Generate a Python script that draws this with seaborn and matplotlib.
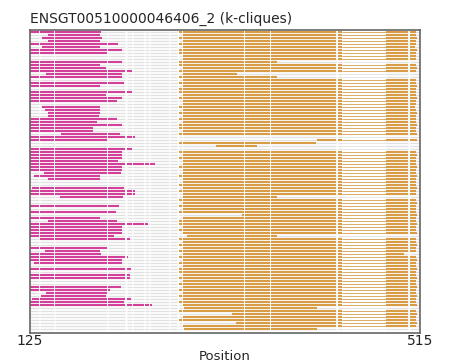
import numpy as np
import matplotlib
matplotlib.use("Agg")
import matplotlib.pyplot as plt
import seaborn as sns

# ---- data ----
title = "ENSGT00510000046406_2 (k-cliques)"
x_min, x_max = 125, 515

# alignment columns that are empty in every sequence (white cuts)
gap_start = [134.0, 149.0, 201.7, 204.7, 220.0, 226.8, 238.5, 243.5, 263.5, 272.3, 277.0, 338.5, 365.0, 431.0, 503.3]
gap_end   = [135.0, 150.0, 202.7, 205.5, 222.3, 228.3, 240.0, 245.0, 265.0, 274.3, 278.3, 340.0, 366.0, 432.7, 505.0]
# stretch that is drawn thin (few sequences cover it)
thin_start, thin_end = 436.7, 481.0

N = np.nan
# sequence extent (grey)
seq_start = [125.5] * 100
seq_end = [514.5] * 100

# clique 1 (magenta)
mag_start = [125, 143, 137, 143, 125, 137, 125, 125, N, N,
             125, 125, 125, 125, 141, 125, N, 125, 126, N,
             125, 125, 125, 125, N, 137, 140, 143, 143, 126,
             125, 125, 125, 125, 156, 125, 125, N, N, 126,
             125, 125, 125, 125, 125, 125, 125, 139, 129, 143,
             N, N, 127, 125, 125, 155, N, N, 125, N,
             125, N, 125, 143, 125, 125, 125, 125, 125, 135,
             N, N, 125, 140, 125, 125, 125, 129, N, 125,
             N, 125, 125, N, N, 125, 125, 141, 136, 127,
             125, 125, N, N, N, N, N, N, N, N]
mag_end = [196, 195, 197, 195, 213, 195, 217, 202, N, N,
           217, 195, 201, 228, 217, 217, N, 219, 195, N,
           228, 201, 217, 212, N, 195, 195, 195, 194, 212,
           192, 217, 188, 188, 215, 230, 203, N, N, 228,
           217, 217, 217, 213, 250, 217, 217, 216, 195, 195,
           N, N, 219, 230, 230, 218, N, N, 214, N,
           211, N, 195, 212, 243, 217, 217, 217, 209, 225,
           N, N, 202, 195, 196, 223, 217, 217, N, 226,
           N, 225, 225, N, N, 216, 205, 202, 201, 226,
           219, 247, N, N, N, N, N, N, N, N]

# clique 2 (gold)
gold_start = [274, 278, 274, 278, 274, 278, 274, 274, 278, 278,
              274, 274, 278, 274, 278, 274, 278, 274, 278, 274,
              274, 278, 274, 278, 278, 274, 278, 274, 278, 274,
              278, 274, 274, 278, 274, N, 412, 274, 311, N,
              274, 278, 274, 278, 278, 274, 278, 278, 274, 278,
              278, 274, 278, 274, 278, 278, 274, 278, 274, 278,
              274, 337, 278, 274, 274, 278, 274, 278, 282, 274,
              278, 274, 278, 274, 278, 274, 278, 274, 278, 274,
              274, 278, 274, 278, 274, 278, 274, 278, 274, 278,
              274, 278, 279, 274, 327, 278, 274, 331, 278, 279]
gold_end = [511, 511, 512, 511, 511, 510, 512, 511, 511, 511,
            372, 511, 512, 511, 332, 372, 511, 511, 512, 511,
            511, 511, 512, 511, 511, 510, 511, 512, 511, 511,
            511, 512, 511, 511, 512, N, 512, 411, 352, N,
            511, 512, 511, 511, 511, 512, 511, 511, 512, 511,
            511, 511, 512, 511, 511, 372, 511, 512, 511, 511,
            511, 512, 511, 511, 512, 511, 511, 512, 372, 511,
            511, 512, 511, 511, 499, 511, 512, 511, 511, 512,
            511, 511, 512, 511, 511, 512, 511, 511, 512, 511,
            511, 512, 412, 511, 512, 511, 511, 512, 511, 412]

mag_color = "#d2409a"
gold_color = "#d89c45"
grey_color = "#e0e0e0"


def pieces(a, b):
    """cut [a, b] at the shared gap columns, flag the thin stretch"""
    cuts = [(a, b)]
    for gs, ge in zip(gap_start, gap_end):
        nxt = []
        for s, e in cuts:
            if ge <= s or gs >= e:
                nxt.append((s, e))
                continue
            if gs > s:
                nxt.append((s, gs))
            if ge < e:
                nxt.append((ge, e))
        cuts = nxt
    out = []
    for s, e in cuts:
        for lo, hi, thin in [(s, min(e, thin_start), False),
                             (max(s, thin_start), min(e, thin_end), True),
                             (max(s, thin_end), e, False)]:
            if hi > lo:
                out.append((lo, hi, thin))
    return out


def draw_rows(ax, starts, ends, color, lw, lw_thin):
    for i, (a, b) in enumerate(zip(starts, ends)):
        if np.isnan(a):
            continue
        for lo, hi, thin in pieces(a, b):
            ax.hlines(i, lo, hi, colors=color, linewidth=lw_thin if thin else lw)


sns.set_theme(style="white")
plt.rcParams['font.family'] = ['DejaVu Sans']

fig = plt.figure(figsize=(4.5, 3.63), dpi=100)
ax = fig.add_axes([30 / 450, 1 - 333 / 363, 390 / 450, 303 / 363])

draw_rows(ax, seq_start, seq_end, grey_color, 0.95, 0.55)
draw_rows(ax, mag_start, mag_end, mag_color, 1.5, 0.55)
draw_rows(ax, gold_start, gold_end, gold_color, 1.5, 0.55)

ax.set_xlim(x_min, x_max)
ax.set_ylim(100.23, -0.77)
ax.set_xticks([x_min, x_max])
ax.set_yticks([])
ax.tick_params(axis='x', length=0, pad=1, labelsize=10, colors='#222222')
ax.set_xlabel("Position", fontsize=9.5, labelpad=1)
ax.set_title(title, loc='left', fontsize=10, pad=5)
for sp in ax.spines.values():
    sp.set_color('#666666')
    sp.set_linewidth(1.2)

fig.savefig("out.png", dpi=100)
